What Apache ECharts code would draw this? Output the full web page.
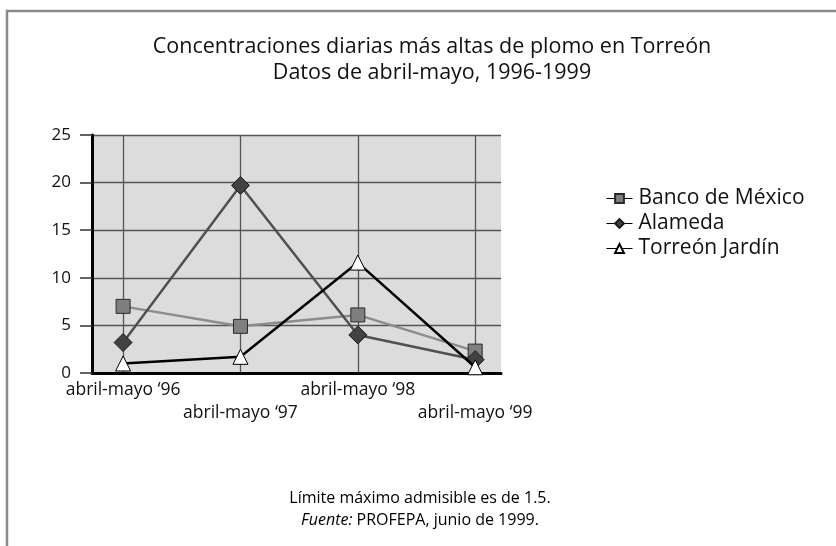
<!DOCTYPE html>
<html>
<head>
<meta charset="utf-8">
<script src="https://cdn.jsdelivr.net/npm/echarts@6/dist/echarts.min.js"></script>
<style>
  html, body { margin: 0; padding: 0; background: #fff; }
  #main { width: 836px; height: 546px; }
</style>
</head>
<body>
<div id="main"></div>
<script>
// datos
var periodos = ['abril-mayo \u201896', 'abril-mayo \u201897', 'abril-mayo \u201898', 'abril-mayo \u201899'];
var bancoMexico = [7.0, 4.9, 6.1, 2.3];
var alameda = [3.2, 19.7, 4.0, 1.4];
var torreonJardin = [1.0, 1.7, 11.6, 0.6];
var yTicks = [0, 5, 10, 15, 20, 25];

var fuente = '"Open Sans", "Noto Sans", sans-serif';

function puntos(vals) {
    return vals.map(function (v, i) { return [i, v]; });
}

var myChart = echarts.init(document.getElementById('main'));

const option = {
    animation: false,
    textStyle: { fontFamily: fuente },
    graphic: [
        {
            type: 'rect',
            shape: { x: 7, y: 11, width: 840, height: 560 },
            style: { fill: 'none', stroke: '#8a8a8a', lineWidth: 2.5 }
        },
        {
            type: 'text',
            x: 432, y: 60,
            style: {
                text: 'Concentraciones diarias más altas de plomo en Torreón\nDatos de abril-mayo, 1996-1999',
                font: '21.5px ' + fuente,
                lineHeight: 26,
                fill: '#111',
                align: 'center',
                verticalAlign: 'middle'
            }
        },
        {
            type: 'text',
            x: 420, y: 509,
            style: {
                text: '{n|Límite máximo admisible es de 1.5.}\n{i|Fuente:}{n| PROFEPA, junio de 1999.}',
                align: 'center',
                verticalAlign: 'middle',
                rich: {
                    n: { fontSize: 16, fontFamily: fuente, color: '#222', lineHeight: 22 },
                    i: { fontSize: 16, fontFamily: fuente, fontStyle: 'italic', color: '#222', lineHeight: 22 }
                }
            }
        }
    ],
    legend: {
        orient: 'vertical',
        left: 601,
        top: 183,
        itemWidth: 26,
        itemHeight: 11,
        itemGap: 4,
        lineStyle: { color: '#000', width: 1 },
        textStyle: { fontSize: 21, color: '#111', fontFamily: fuente, padding: [0, 0, 0, 1] },
        data: ['Banco de México', 'Alameda', 'Torreón Jardín']
    },
    grid: {
        left: 92,
        right: 335,
        top: 135,
        bottom: 173,
        show: true,
        backgroundColor: '#dcdcdc',
        borderWidth: 0
    },
    xAxis: {
        type: 'value',
        min: -0.265,
        max: 3.22,
        axisLine: { show: true, onZero: false, lineStyle: { color: '#000', width: 3 } },
        axisTick: { show: false, customValues: [0, 1, 2, 3] },
        splitLine: { show: true, lineStyle: { color: '#555', width: 1.3 } },
        axisLabel: {
            customValues: [0, 1, 2, 3],
            margin: 6,
            fontSize: 17.5,
            lineHeight: 23,
            color: '#111',
            formatter: function (v) {
                return v % 2 ? '\n' + periodos[v] : periodos[v];
            }
        }
    },
    yAxis: {
        type: 'value',
        min: 0,
        max: 25,
        interval: 5,
        axisLine: { show: true, onZero: false, lineStyle: { color: '#000', width: 3 } },
        axisTick: { show: true, length: 12, lineStyle: { color: '#333', width: 1.5 } },
        splitLine: { show: true, lineStyle: { color: '#555', width: 1.3 } },
        axisLabel: {
            margin: 21,
            fontSize: 17,
            color: '#111',
            formatter: function (v) { return yTicks.indexOf(v) >= 0 ? String(v) : ''; }
        }
    },
    series: [
        {
            name: 'Banco de México',
            type: 'line',
            data: puntos(bancoMexico),
            symbol: 'rect',
            symbolSize: 14,
            lineStyle: { color: '#8c8c8c', width: 2.5 },
            itemStyle: { color: '#7f7f7f', borderColor: '#2a2a2a', borderWidth: 1 },
            z: 3
        },
        {
            name: 'Alameda',
            type: 'line',
            data: puntos(alameda),
            symbol: 'diamond',
            symbolSize: 18,
            lineStyle: { color: '#505050', width: 2.5 },
            itemStyle: { color: '#424242', borderColor: '#1a1a1a', borderWidth: 1 },
            z: 4
        },
        {
            name: 'Torreón Jardín',
            type: 'line',
            data: puntos(torreonJardin),
            symbol: 'triangle',
            symbolSize: 15,
            lineStyle: { color: '#000', width: 2.5 },
            itemStyle: { color: '#fff', borderColor: '#000', borderWidth: 1 },
            z: 5
        }
    ]
};

myChart.setOption(option);
</script>
</body>
</html>
